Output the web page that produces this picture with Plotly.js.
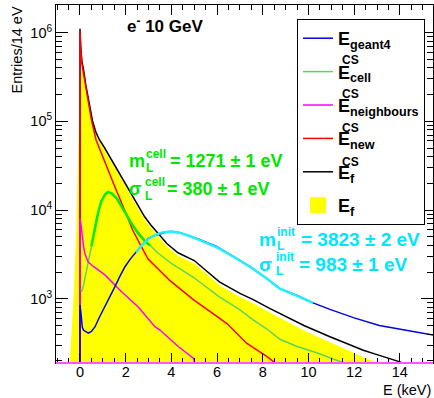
<!DOCTYPE html>
<html>
<head>
<meta charset="utf-8">
<script src="https://cdn.plot.ly/plotly-3.0.1.min.js"></script>
<style>html,body{margin:0;padding:0;background:#fff;}#chart{width:434px;height:398px;}</style>
</head>
<body>
<div id="chart"></div>
<script>
// ---- data (energy in keV, entries per 14 eV) ----
const yellowE = [-0.5,-0.45,-0.36,-0.29,-0.22,-0.15,-0.1,-0.05,0,0.06,0.13,0.2,0.3,0.45,0.55,0.7,0.85,1.08,1.35,1.66,1.95,2.25,2.55,2.83,3.1,3.41,3.8,4.29,5.0,5.5,6.1,7.0,7.58,8.3,9.04,9.8,10.94,11.7,12.4,12.8,13.1,13.2];
const yellowN = [100,180,450,900,2500,7000,25000,80000,280000,360000,385000,310000,230000,130000,96000,72000,59000,47000,36000,26500,19500,14000,10400,7900,6300,5100,3900,3050,2500,1950,1420,1050,890,700,560,440,325,265,220,200,185,100];

const blackE = [0,0,0.03,0.08,0.15,0.25,0.35,0.45,0.55,0.7,0.85,1.08,1.35,1.66,1.95,2.25,2.55,2.83,3.1,3.41,3.8,4.29,5.0,5.5,6.1,7.0,7.58,8.3,9.04,9.8,10.94,11.7,12.4,13.0,13.56,14.0,14.3];
const blackN = [100,1100000,700000,480000,390000,260000,190000,135000,100000,75000,62000,50000,38000,28000,20500,14800,11000,8400,6800,5500,4200,3300,2700,2100,1550,1150,980,780,630,500,374,310,263,235,214,195,180];

const redE = [0,0,0.03,0.08,0.15,0.25,0.35,0.5,0.7,0.93,1.2,1.52,1.95,2.3,2.68,2.98,3.94,4.96,6.42,7.29,8.17,8.6];
const redN = [100,1050000,650000,450000,350000,240000,170000,104000,62000,44000,29000,18400,10000,6000,3900,2800,1600,980,530,316,225,185];

const greenE = [0.02,0.07,0.15,0.22,0.36,0.5,0.71,0.93,1.1,1.23,1.4,1.6,1.8,2.25,2.83,3.06,3.4,4.0,4.96,6.1,7.0,7.58,8.17,8.75,9.5,10.3,11.08,11.6,11.9];
const greenN = [1300,1200,1400,1700,2500,3900,7700,12500,15000,16000,15200,13500,11200,7100,4600,4000,3300,2500,1750,1050,750,580,460,350,290,250,210,190,175];

const magentaE = [0,0,0.04,0.1,0.16,0.22,0.36,0.6,1.09,1.82,2.55,3.28,3.5,4.3,4.96,5.05];
const magentaN = [100,8100,7000,4800,3800,3200,2600,2300,1860,1200,810,485,445,290,215,180];

const blueE = [0,0,0.04,0.1,0.15,0.25,0.36,0.5,0.66,0.85,1.09,1.3,1.53,1.75,1.97,2.2,2.41,2.7,2.99,3.3,3.72,3.94,4.2,4.52,5.2,5.98,6.7,7.44,8.1,8.75,9.48,10.2,10.94,12.0,13.1,14.3,15.45];
const blueN = [100,850,700,480,445,430,410,430,485,620,810,1050,1370,1800,2300,2800,3260,4000,4800,5200,5600,5750,5700,5400,4700,3900,3000,2300,1750,1300,1100,900,760,610,500,440,390];

const cellFitE = [0.5,0.62,0.71,0.8,0.93,1.1,1.23,1.4,1.6,1.8,2.0,2.25,2.55,2.83,3.06];
const cellFitN = [3900,5800,7700,9500,12500,15000,16000,15300,13600,11300,9200,7100,5400,4500,4000];

const initFitE = [2.45,2.7,2.99,3.3,3.6,3.94,4.3,4.8,5.4,6.0,6.7,7.44,8.1,8.75,9.5,10.2];
const initFitN = [3350,4000,4700,5250,5600,5750,5600,5100,4400,3800,3000,2300,1750,1300,1080,900];

const xTicks = [0,2,4,6,8,10,12,14];
const yTicks = [1e3,1e4,1e5,1e6];
const yTickText = ['10<sup>3</sup>','10<sup>4</sup>','10<sup>5</sup>','10<sup>6</sup>'];

// ---- layout helpers ----
const PL = 56, PR = 433, PT = 5, PB = 363;
const px = x => (x - PL) / (PR - PL);
const py = y => (PB - y) / (PB - PT);
const FONT = 'Liberation Sans, Arial, Helvetica, sans-serif';

const minorY = [];
for (let d = 2; d <= 6; d++) for (let k = 2; k <= 9; k++) { const v = k * Math.pow(10, d); if (v > 190 && v < 2.0e6) minorY.push(v); }

const LW = 1.5;
const traces = [
  {x: yellowE, y: yellowN, type: 'scatter', mode: 'none', fill: 'tozeroy', fillcolor: '#ffff00', showlegend: false, hoverinfo: 'skip'},
  {x: blackE, y: blackN, type: 'scatter', mode: 'lines', line: {color: '#000000', width: LW}, name: '<b>E<sub>f</sub></b>', legendrank: 5, legendgroup: 'g5'},
  {x: redE, y: redN, type: 'scatter', mode: 'lines', line: {color: '#ff0000', width: LW}, name: '<b>E<sub>new</sub></b>', legendrank: 4, legendgroup: 'g4'},
  {x: greenE, y: greenN, type: 'scatter', mode: 'lines', line: {color: '#5fd35f', width: LW}, name: '<b>E<sub>cell</sub></b>', legendrank: 2, legendgroup: 'g2'},
  {x: magentaE, y: magentaN, type: 'scatter', mode: 'lines', line: {color: '#ff00ff', width: LW}, name: '<b>E<sub>neighbours</sub></b>', legendrank: 3, legendgroup: 'g3'},
  {x: blueE, y: blueN, type: 'scatter', mode: 'lines', line: {color: '#0000ee', width: LW}, name: '<b>E<sub>geant4</sub></b>', legendrank: 1, legendgroup: 'g1'},
  {x: cellFitE, y: cellFitN, type: 'scatter', mode: 'lines', line: {color: '#00ee00', width: 2.5}, showlegend: false},
  {x: initFitE, y: initFitN, type: 'scatter', mode: 'lines', line: {color: '#22eeff', width: 2.5}, showlegend: false},
  {x: [null], y: [null], type: 'scatter', mode: 'markers', marker: {symbol: 'square', size: 16, color: '#ffff00'}, name: '<b>E<sub>f</sub></b>', legendrank: 6, legendgroup: 'g6'}
];

function ann(text, x, y, size, color, opts) {
  return Object.assign({text: text, xref: 'paper', yref: 'paper', x: px(x), y: py(y), xanchor: 'left', yanchor: 'middle', showarrow: false,
    font: {family: FONT, size: size, color: color}}, opts || {});
}
const G = '#00e600', C = '#00e5ff';
const annotations = [
  ann('Entries/14 eV', 16, 5, 14.5, '#000', {textangle: -90, xanchor: 'center', yanchor: 'top'}),
  ann('E (keV)', 433, 390, 14.5, '#000', {xanchor: 'right'}),
  ann('<b>e<sup>-</sup> 10 GeV</b>', 125, 25, 17, '#000'),
  // cell fit
  ann('<b>m</b>', 127, 161, 18, G), ann('<b>cell</b>', 144, 154, 12, G), ann('<b>L</b>', 144, 168, 12, G), ann('<b>= 1271 ± 1 eV</b>', 168, 161, 18, G),
  ann('<b>σ</b>', 127, 189, 18, G), ann('<b>cell</b>', 143, 182, 12, G), ann('<b>L</b>', 143, 196, 12, G), ann('<b>= 380 ± 1 eV</b>', 165, 189, 18, G),
  // init fit
  ann('<b>m</b>', 257, 239, 19, C), ann('<b>init</b>', 275, 232, 12, C), ann('<b>L</b>', 275, 246, 12, C), ann('<b>= 3823 ± 2 eV</b>', 299, 239, 19, C),
  ann('<b>σ</b>', 257, 264, 19, C), ann('<b>init</b>', 274, 257, 12, C), ann('<b>L</b>', 274, 271, 12, C), ann('<b>= 983 ± 1 eV</b>', 297, 264, 19, C),
  // legend superscripts
  ann('<b>CS</b>', 340, 60, 12, '#000'), ann('<b>CS</b>', 340, 94, 12, '#000'), ann('<b>CS</b>', 340, 128, 12, '#000'), ann('<b>CS</b>', 340, 162, 12, '#000')
];

const layout = {
  width: 434, height: 398,
  margin: {l: PL, r: 434 - PR, t: PT, b: 398 - PB, pad: 0},
  paper_bgcolor: '#fff', plot_bgcolor: '#fff',
  font: {family: FONT, size: 14, color: '#000'},
  showlegend: true,
  legend: {x: px(297), y: py(19), xanchor: 'left', yanchor: 'top', bgcolor: '#fff', bordercolor: '#000', borderwidth: 1,
    font: {family: FONT, size: 18, color: '#000'}, tracegroupgap: 7, itemwidth: 30, traceorder: 'grouped'},
  xaxis: {range: [-1.05, 15.45], tickmode: 'array', tickvals: xTicks, ticks: 'inside', ticklen: 10, tickwidth: 1, tickcolor: '#000',
    showline: true, linecolor: '#000', linewidth: 1, mirror: 'allticks', showgrid: false, zeroline: false, ticklabelstandoff: -4,
    tickfont: {family: FONT, size: 14.5, color: '#000'},
    minor: {dtick: 0.5, tick0: 0, ticks: 'inside', ticklen: 5, tickcolor: '#000', tickwidth: 1, showgrid: false}},
  yaxis: {type: 'log', range: [2.277, 6.31], tickmode: 'array', tickvals: yTicks, ticktext: yTickText, ticks: 'inside', ticklen: 12, tickwidth: 1, tickcolor: '#000',
    showline: true, linecolor: '#000', linewidth: 1, mirror: 'allticks', showgrid: false, zeroline: false,
    tickfont: {family: FONT, size: 14.5, color: '#000'},
    minor: {tickmode: 'array', tickvals: minorY, ticks: 'inside', ticklen: 6, tickcolor: '#000', tickwidth: 1, showgrid: false}},
  shapes: [{type: 'line', xref: 'paper', yref: 'paper', x0: 0, x1: 1, y0: 0, y1: 0, line: {color: '#ff55ff', width: 2}, layer: 'above'}],
  annotations: annotations
};

Plotly.newPlot('chart', traces, layout, {displayModeBar: false, staticPlot: true});
</script>
</body>
</html>
